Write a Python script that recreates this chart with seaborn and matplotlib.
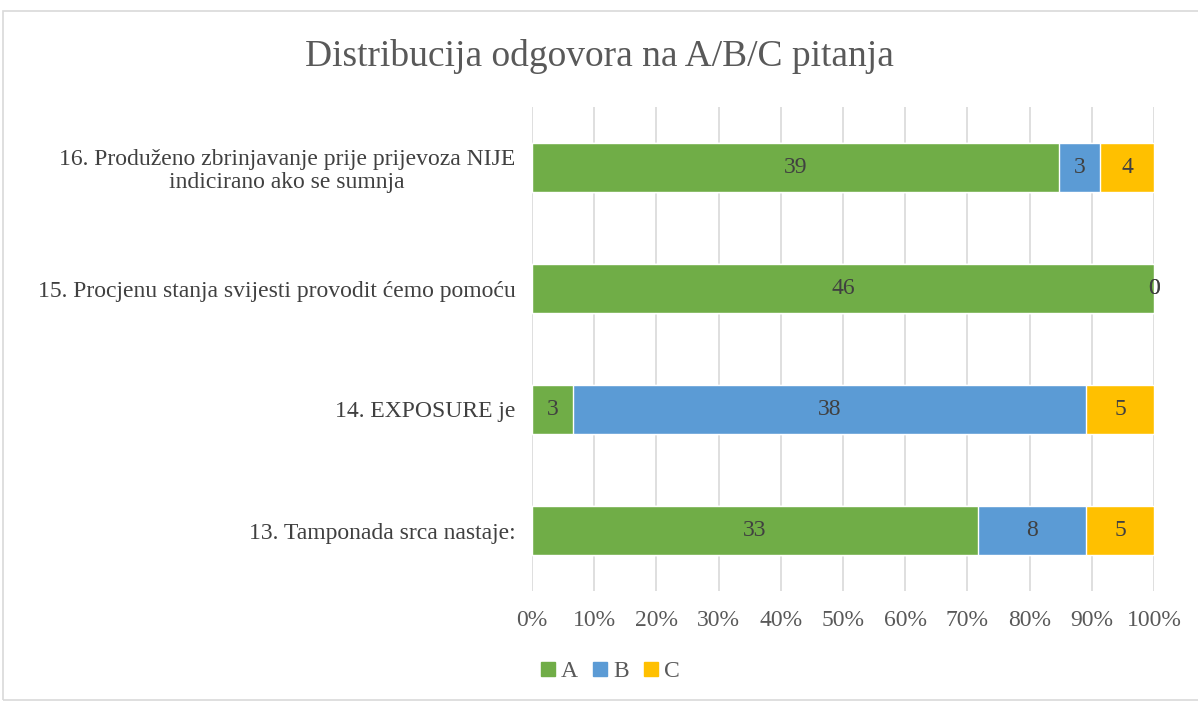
import numpy as np
import pandas as pd
import matplotlib.pyplot as plt
import seaborn as sns
from matplotlib.lines import Line2D
from matplotlib.patches import Rectangle

# Data (top to bottom as shown)
questions = ['16. Produženo zbrinjavanje prije prijevoza NIJE\nindicirano ako se sumnja',
             '15. Procjenu stanja svijesti provodit ćemo pomoću',
             '14. EXPOSURE je',
             '13. Tamponada srca nastaje:']
a_vals = [39, 46, 3, 33]
b_vals = [3, 0, 38, 8]
c_vals = [4, 0, 5, 5]

cols = ["#70AD47", "#5B9BD5", "#FFC000"]

sns.set_style("white")
plt.rcParams['font.family'] = ['Liberation Serif', 'DejaVu Serif']

a = np.array(a_vals, dtype=float)
b = np.array(b_vals, dtype=float)
c = np.array(c_vals, dtype=float)
tot = a + b + c
pa, pb, pc = a / tot * 100, b / tot * 100, c / tot * 100

df = pd.DataFrame({'q': questions, 'A': pa, 'AB': pa + pb, 'ABC': pa + pb + pc})

fig = plt.figure(figsize=(11.98, 7.01), dpi=100)
ax = fig.add_axes([532/1198, 1-591/701, (1154-532)/1198, (591-107)/701])

# stacked layers, back to front
sns.barplot(data=df, y='q', x='ABC', color=cols[2], width=0.4, saturation=1, ax=ax, zorder=2)
sns.barplot(data=df, y='q', x='AB', color=cols[1], width=0.4, saturation=1, ax=ax, zorder=3)
sns.barplot(data=df, y='q', x='A', color=cols[0], width=0.4, saturation=1, ax=ax, zorder=4)

# segment labels
for i in range(len(questions)):
    starts = [0, pa[i], pa[i] + pb[i]]
    widths = [pa[i], pb[i], pc[i]]
    vals = [a_vals[i], b_vals[i], c_vals[i]]
    for s, w, v in zip(starts, widths, vals):
        ax.text(s + w / 2, i, f"{v}", ha='center', va='center',
                fontsize=17, color='#404040', zorder=10)

ax.set_xlim(0, 100)
ax.set_ylim(3.5, -0.5)
ax.set_xticks(np.arange(0, 101, 10))
ax.set_xticklabels([f"{t}%" for t in range(0, 101, 10)], fontsize=17, color='#595959')
ax.tick_params(axis='x', length=0, pad=14)
ax.tick_params(axis='y', length=0, pad=12)
for lab in ax.get_yticklabels():
    lab.set_fontsize(17)
    lab.set_color('#404040')
    lab.set_multialignment('center')
    lab.set_linespacing(1.15)
ax.set_xlabel('')
ax.set_ylabel('')
ax.grid(axis='x', color='#D9D9D9', lw=1.2, zorder=0)
ax.set_axisbelow(True)
sns.despine(ax=ax, top=True, right=True, left=True, bottom=True)

fig.text(0.5, 1-56/701, 'Distribucija odgovora na A/B/C pitanja', ha='center', va='center',
         fontsize=27, color='#595959')

handles = [Line2D([0], [0], color=cl, lw=0, marker='s', markersize=10) for cl in cols]
fig.legend(handles, ['A', 'B', 'C'], loc='center', bbox_to_anchor=(610/1198, 1-671/701),
           ncol=3, frameon=False, prop={'size': 17}, handlelength=0.7, handletextpad=0.2,
           columnspacing=0.6, labelcolor='#595959')

# chart frame
fig.add_artist(Rectangle((3/1198, 1-700/701), 1.2, (700-11)/701, transform=fig.transFigure,
                         fill=False, edgecolor='#D9D9D9', lw=1.2))

plt.savefig('out.png', dpi=100)
